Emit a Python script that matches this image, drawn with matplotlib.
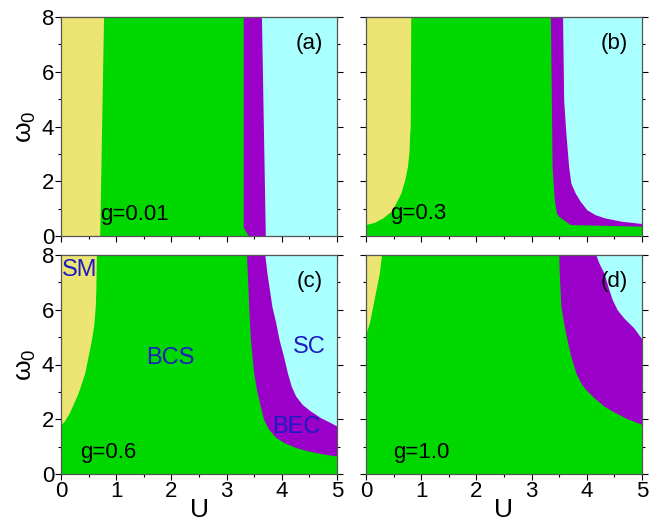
import matplotlib
matplotlib.use('Agg')
import matplotlib.pyplot as plt
from matplotlib.ticker import MultipleLocator

plt.rcParams['font.family'] = ['Liberation Sans', 'DejaVu Sans']
plt.rcParams['mathtext.fontset'] = 'custom'
plt.rcParams['mathtext.rm'] = 'Liberation Sans'
plt.rcParams['mathtext.it'] = 'Liberation Sans'

# colours of the phases
c_sm = '#ede573'
c_bcs = '#00d800'
c_bec = '#9b00c8'
c_sc = '#aaffff'
c_txt = '#1c1cc0'

# phase boundaries: (U values, omega_0 values)
# panel (a) g=0.01
sm_a_u = [0.78, 0.71]
sm_a_w = [8.0, 0.0]
bec_a_u = [3.31, 3.31, 3.40]
bec_a_w = [8.0, 0.3, 0.0]
sc_a_u = [3.64, 3.71]
sc_a_w = [8.0, 0.0]

# panel (b) g=0.3
sm_b_u = [0.82, 0.81, 0.80, 0.79, 0.76, 0.71, 0.64, 0.55, 0.46, 0.31, 0.16, 0.0]
sm_b_w = [8.0, 3.97, 3.73, 3.12, 2.52, 2.03, 1.55, 1.19, 0.88, 0.64, 0.48, 0.40]
bec_b_u = [3.35, 3.38, 3.42, 3.46, 3.50, 3.71, 5.0]
bec_b_w = [8.0, 2.52, 1.31, 0.82, 0.70, 0.40, 0.34]
sc_b_u = [3.57, 3.59, 3.63, 3.68, 3.72, 3.80, 3.89, 4.01, 4.16, 4.34, 4.64, 5.0]
sc_b_w = [8.0, 4.94, 3.73, 2.52, 1.91, 1.55, 1.25, 0.94, 0.76, 0.64, 0.52, 0.44]

# panel (c) g=0.6
sm_c_u = [0.65, 0.64, 0.63, 0.60, 0.56, 0.50, 0.44, 0.36, 0.32, 0.24, 0.16, 0.07, 0.0]
sm_c_w = [8.0, 6.71, 6.10, 5.38, 4.89, 4.28, 3.68, 3.19, 2.95, 2.58, 2.22, 1.92, 1.77]
bec_c_u = [3.37, 3.41, 3.44, 3.50, 3.55, 3.62, 3.68, 3.77, 3.90, 4.05, 4.26, 4.47, 4.71, 5.0]
bec_c_w = [8.0, 6.10, 4.89, 3.68, 3.07, 2.46, 1.98, 1.62, 1.32, 1.13, 0.95, 0.83, 0.73, 0.64]
sc_c_u = [3.70, 3.74, 3.83, 3.90, 3.96, 4.04, 4.11, 4.18, 4.26, 4.38, 4.53, 4.71, 4.87, 5.0]
sc_c_w = [8.0, 7.32, 6.10, 5.50, 4.89, 4.28, 3.68, 3.19, 2.83, 2.52, 2.28, 2.04, 1.88, 1.74]

# panel (d) g=1.0
sm_d_u = [0.29, 0.25, 0.19, 0.13, 0.07, 0.02, 0.0]
sm_d_w = [8.0, 7.32, 6.71, 6.10, 5.50, 5.19, 5.07]
bec_d_u = [3.50, 3.51, 3.54, 3.59, 3.65, 3.72, 3.81, 3.90, 3.99, 4.14, 4.32, 4.50, 4.74, 5.0]
bec_d_w = [8.0, 7.32, 6.10, 5.50, 4.89, 4.28, 3.68, 3.31, 3.07, 2.77, 2.46, 2.25, 2.00, 1.80]
sc_d_u = [4.17, 4.23, 4.32, 4.41, 4.47, 4.56, 4.68, 4.86, 5.0]
sc_d_w = [8.0, 7.68, 7.32, 6.71, 6.35, 5.98, 5.68, 5.32, 4.93]

panels = [
    ('(a)', 'g=0.01', (0.71, 0.77), sm_a_u, sm_a_w, bec_a_u, bec_a_w, sc_a_u, sc_a_w),
    ('(b)', 'g=0.3', (0.43, 0.83), sm_b_u, sm_b_w, bec_b_u, bec_b_w, sc_b_u, sc_b_w),
    ('(c)', 'g=0.6', (0.35, 0.80), sm_c_u, sm_c_w, bec_c_u, bec_c_w, sc_c_u, sc_c_w),
    ('(d)', 'g=1.0', (0.49, 0.80), sm_d_u, sm_d_w, bec_d_u, bec_d_w, sc_d_u, sc_d_w),
]

umax, wmax = 5.0, 8.0

fig = plt.figure(figsize=(6.65, 5.26), dpi=100)
W, H = 665, 526
boxes = [(61, 17), (366, 17), (61, 255), (366, 255)]
aw, ah = 276, 219

for i, (lab, glab, gpos, smu, smw, bu, bw, su, sw) in enumerate(panels):
    x0, y0 = boxes[i]
    ax = fig.add_axes([x0 / W, 1 - (y0 + ah) / H, aw / W, ah / H])
    ax.set_xlim(0, umax)
    ax.set_ylim(0, wmax)

    # BCS background
    ax.fill([0, umax, umax, 0], [0, 0, wmax, wmax], color=c_bcs, lw=0)
    # SM region (left of boundary)
    if smw[-1] == 0:
        ax.fill([0, smu[-1], smu[0], 0], [0, 0, wmax, wmax], color=c_sm, lw=0)
    else:
        ax.fill(smu + [0], smw + [wmax], color=c_sm, lw=0)
    # BEC and SC regions (right of boundaries)
    if bw[-1] == 0:
        ax.fill(bu + [umax, umax], bw + [0, wmax], color=c_bec, lw=0)
    else:
        ax.fill(bu + [umax], bw + [wmax], color=c_bec, lw=0)
    if sw[-1] == 0:
        ax.fill(su + [umax, umax], sw + [0, wmax], color=c_sc, lw=0)
    else:
        ax.fill(su + [umax], sw + [wmax], color=c_sc, lw=0)

    ax.text(4.5, 7.05, lab, fontsize=16, ha='center', va='center')
    ax.text(gpos[0], gpos[1], glab, fontsize=16, ha='left', va='center')

    ax.xaxis.set_major_locator(MultipleLocator(1))
    ax.xaxis.set_minor_locator(MultipleLocator(0.5))
    ax.yaxis.set_major_locator(MultipleLocator(2))
    ax.yaxis.set_minor_locator(MultipleLocator(1))
    ax.tick_params(which='both', direction='out', top=False, right=True,
                   labelsize=16, width=0.8, pad=1)
    ax.tick_params(which='major', length=4)
    ax.tick_params(which='minor', length=2)
    top = ax.secondary_xaxis('top')
    top.xaxis.set_major_locator(MultipleLocator(1))
    top.xaxis.set_minor_locator(MultipleLocator(0.5))
    top.tick_params(which='both', direction='in', labeltop=False, width=0.8)
    top.tick_params(which='major', length=4)
    top.tick_params(which='minor', length=2)
    top.spines['top'].set_color('#555555')
    for sp in ax.spines.values():
        sp.set_color('#555555')
        sp.set_linewidth(0.9)

    if i < 2:
        ax.tick_params(labelbottom=False)
    else:
        ax.set_xlabel('U', fontsize=19, labelpad=-3)
    if i % 2 == 1:
        ax.tick_params(labelleft=False)
    else:
        ax.set_ylabel(r'$\omega_0$', fontsize=19, labelpad=3)

    if i == 2:
        ax.text(0.33, 7.45, 'SM', color=c_txt, fontsize=17, ha='center', va='center')
        ax.text(1.98, 4.23, 'BCS', color=c_txt, fontsize=17, ha='center', va='center')
        ax.text(4.5, 4.63, 'SC', color=c_txt, fontsize=17, ha='center', va='center')
        ax.text(4.27, 1.72, 'BEC', color=c_txt, fontsize=17, ha='center', va='center')

fig.savefig('out.png', dpi=100)
